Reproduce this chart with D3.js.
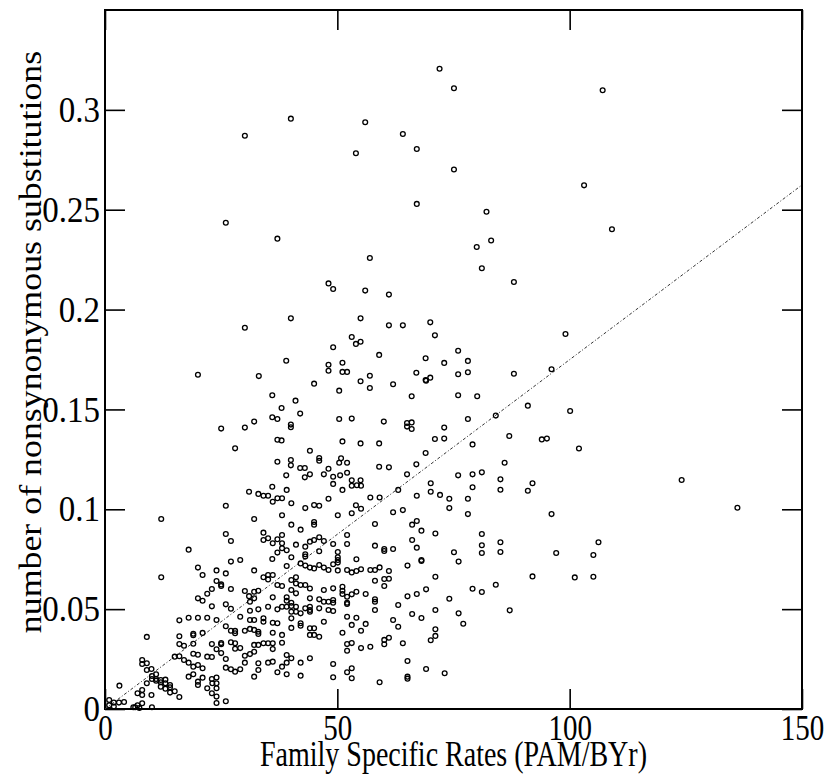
<!DOCTYPE html>
<html>
<head>
<meta charset="utf-8">
<script src="https://cdn.jsdelivr.net/npm/d3@7"></script>
<style>
  body { margin: 0; background: #fff; }
  text { font-family: "Liberation Serif", "Times New Roman", serif; fill: #000; }
</style>
</head>
<body>
<div id="scatter"></div>
<script>
const svgWidth = 828;
const svgHeight = 775;

// plot frame (pixels)
const frame = { left: 105, right: 802, top: 10, bottom: 709 };

// axis settings
const xDomain = [0, 150];
const yDomain = [0, 0.35];
const xTicks = [0, 50, 100, 150];
const yTicks = [0, 0.05, 0.1, 0.15, 0.2, 0.25, 0.3];
const xTitle = "Family Specific Rates (PAM/BYr)";
const yTitle = "number of nonsynonymous substitutions";

// regression line end points
const fitX = [0, 150];
const fitY = [0, 0.2624];

// [rate, substitutions]
const points = [
  // top / sparse
  [40.0,0.2956],[30.1,0.2870],[26.0,0.2435],[37.1,0.2355],
  [72.0,0.3206],[75.1,0.3108],[56.0,0.2938],[64.1,0.2879],[67.1,0.2804],[54.0,0.2783],[75.1,0.2701],[67.1,0.2529],[82.1,0.2490],[83.1,0.2346],
  [107.1,0.3098],[103.1,0.2622],[109.1,0.2402],
  [124.1,0.1147],[136.1,0.1008],[106.2,0.0835],[105.1,0.0771],[105.1,0.0662],
  // middle right
  [80.0,0.2313],[57.0,0.2258],[81.1,0.2207],[88.0,0.2138],[56.0,0.2095],[61.1,0.2075],[55.0,0.1956],[61.1,0.1921],[64.1,0.1921],[70.0,0.1936],
  [71.0,0.1871],[53.1,0.1863],[54.0,0.1828],[55.0,0.1839],[99.1,0.1878],[59.0,0.1773],[76.0,0.1794],[69.0,0.1756],[73.0,0.1733],[78.1,0.1743],
  [51.1,0.1734],[51.1,0.1688],[52.1,0.1688],[76.0,0.1676],[78.1,0.1686],[88.0,0.1679],[96.1,0.1701],[57.0,0.1669],[55.0,0.1641],[67.0,0.1684],
  [69.0,0.1647],[70.0,0.1659],[69.1,0.1644],[57.0,0.1607],[62.0,0.1626],[66.0,0.1566],[76.0,0.1571],[80.1,0.1566],[91.0,0.1519],[100.1,0.1492],
  [84.1,0.1469],[78.1,0.1452],[53.1,0.1454],[60.0,0.1439],[65.0,0.1432],[66.0,0.1435],[65.0,0.1414],[66.0,0.1402],[73.0,0.1409],[71.0,0.1352],
  [73.0,0.1354],[87.0,0.1367],[94.0,0.1350],[95.1,0.1354],[79.1,0.1325],[102.0,0.1304],[51.1,0.1340],[55.0,0.1330],[59.0,0.1330],[69.0,0.1282],
  [67.0,0.1225],[86.0,0.1233],[52.1,0.1233],[59.0,0.1213],[61.1,0.1210],[65.0,0.1175],[76.0,0.1170],[79.1,0.1175],[81.1,0.1185],[85.1,0.1150],
  [52.1,0.1183],[50.8,0.1255],[50.4,0.1233],[50.6,0.1170],[53.1,0.1145],[55.0,0.1145],[53.1,0.1118],[54.2,0.1120],[55.1,0.1118],
  [50.4,0.1594],[50.4,0.1452],
  // middle left
  [48.1,0.2131],[49.1,0.2103],[40.0,0.1956],[30.1,0.1909],[49.1,0.1811],[39.0,0.1744],[48.1,0.1724],[48.1,0.1694],[20.0,0.1674],[33.1,0.1667],
  [45.0,0.1629],[36.0,0.1571],[41.0,0.1544],[38.0,0.1507],[42.0,0.1479],[36.0,0.1461],[37.1,0.1452],[32.1,0.1439],[40.0,0.1424],[40.0,0.1411],
  [25.0,0.1404],[30.1,0.1409],[28.0,0.1305],[37.1,0.1348],[38.0,0.1345],[44.1,0.1293],[46.1,0.1257],[46.1,0.1243],[48.1,0.1203],[49.1,0.1163],
  [39.0,0.1170],[42.0,0.1207],[43.0,0.1207],[40.0,0.1247],[40.0,0.1220],[37.1,0.1238],[44.1,0.1175],[43.0,0.1160],[47.1,0.1175],
  // lower right
  [70.1,0.1130],[92.0,0.1130],[79.1,0.1110],[85.1,0.1098],[91.0,0.1093],[67.1,0.1068],[70.1,0.1088],[72.1,0.1072],[74.1,0.1053],[78.1,0.1053],
  [74.1,0.1006],[78.1,0.0976],[96.1,0.0976],[64.1,0.0996],[66.1,0.0923],[67.1,0.0941],[68.1,0.0893],[71.1,0.0879],[66.1,0.0846],[67.1,0.0808],
  [81.1,0.0876],[81.1,0.0820],[81.1,0.0781],[85.1,0.0835],[85.1,0.0786],[75.1,0.0785],[76.1,0.0738],[68.1,0.0746],[68.1,0.0741],[65.1,0.0718],
  [71.1,0.0662],[92.0,0.0664],[101.1,0.0659],[97.1,0.0781],[79.1,0.0602],[81.1,0.0586],[84.1,0.0622],[69.1,0.0599],[67.1,0.0576],[65.1,0.0564],
  [74.1,0.0552],[71.1,0.0496],[66.1,0.0476],[68.1,0.0456],[76.1,0.0479],[77.1,0.0427],[87.1,0.0494],[71.1,0.0399],[71.1,0.0366],[70.1,0.0344],
  [64.1,0.0329],[65.1,0.0240],[69.1,0.0200],[73.1,0.0179],[65.1,0.0162],[65.1,0.0152],
  // lower left
  [31.0,0.1088],[26.0,0.1018],[12.1,0.0951],[26.0,0.0876],[27.1,0.0841],[18.0,0.0798],[27.1,0.0738],[29.1,0.0746],[20.0,0.0708],[21.0,0.0671],
  [24.0,0.0694],[26.0,0.0679],[12.1,0.0660],[24.0,0.0641],[25.0,0.0624],[25.0,0.0616],[27.1,0.0601],[30.1,0.0591],[23.0,0.0601],[22.0,0.0577],
  [20.0,0.0554],[21.0,0.0542],[23.0,0.0514],[26.0,0.0524],[27.1,0.0502],[31.0,0.0565],[29.1,0.0462],[24.0,0.0446],[22.0,0.0457],[20.0,0.0457],
  [18.0,0.0457],[16.0,0.0444],[26.0,0.0414],[27.1,0.0392],[28.0,0.0391],[28.0,0.0379],[30.1,0.0392],[16.0,0.0364],[19.0,0.0377],[19.0,0.0369],
  [21.0,0.0381],[9.0,0.0361],[16.0,0.0325],[17.0,0.0317],[19.0,0.0327],[23.0,0.0325],[25.0,0.0330],[25.0,0.0324],[27.1,0.0334],[28.0,0.0329],
  [29.1,0.0305],[28.0,0.0302],[16.0,0.0264],[15.0,0.0262],[17.0,0.0245],[19.0,0.0277],[20.0,0.0272],[23.0,0.0260],[22.0,0.0262],[24.0,0.0299],
  [25.0,0.0280],[26.0,0.0250],[26.0,0.0207],[27.1,0.0199],[28.0,0.0187],[29.1,0.0199],[30.1,0.0232],[30.1,0.0267],[8.0,0.0225],[9.0,0.0229],
  [8.0,0.0245],[10.1,0.0165],[11.0,0.0174],[10.1,0.0150],[9.0,0.0195],[10.0,0.0200],[11.0,0.0150],[11.0,0.0142],[12.0,0.0134],[13.0,0.0147],
  [13.0,0.0129],[14.0,0.0120],[14.0,0.0109],[13.0,0.0102],[12.0,0.0145],[12.0,0.0112],[15.0,0.0089],[16.0,0.0060],[14.0,0.0082],[8.0,0.0095],
  [9.0,0.0129],[7.0,0.0079],[8.0,0.0070],[10.0,0.0070],[3.1,0.0117],[0.9,0.0045],[1.9,0.0032],[3.0,0.0032],[4.1,0.0035],[0.9,0.0019],
  [1.9,0.0012],[6.1,0.0009],[6.5,0.0009],[7.0,0.0019],[7.4,0.0005],[8.0,0.0029],[10.1,0.0009],[24.0,0.0030],[26.0,0.0039],[23.0,0.0150],
  [24.0,0.0158],[23.1,0.0129],[24.0,0.0129],[22.0,0.0104],[24.0,0.0104],[23.0,0.0079],[24.0,0.0062],[20.0,0.0137],[20.0,0.0120],[18.0,0.0162],
  [19.0,0.0174],[21.0,0.0157],[21.0,0.0204],[20.0,0.0220],[19.0,0.0212],[18.0,0.0232],
  // dense centre
  [36.0,0.1113],[33.0,0.1077],[34.1,0.1068],[35.1,0.1068],[36.1,0.1038],[37.1,0.1055],[38.1,0.1055],[39.1,0.1097],[40.1,0.1030],[43.1,0.1006],
  [45.0,0.1021],[46.1,0.1018],[48.1,0.1053],[49.1,0.1127],[51.1,0.1097],[57.1,0.1059],[59.1,0.1059],[62.0,0.0985],[63.1,0.1097],[32.1,0.0951],
  [38.1,0.0970],[40.1,0.0923],[42.1,0.0898],[45.0,0.0936],[45.0,0.0923],[50.1,0.0970],[53.1,0.0980],[55.1,0.1003],[54.0,0.1020],[58.1,0.0926],
  [34.1,0.0883],[34.1,0.0846],[35.1,0.0855],[36.1,0.0830],[37.1,0.0850],[38.1,0.0871],[38.1,0.0830],[38.1,0.0805],[41.1,0.0823],[43.1,0.0813],
  [44.1,0.0838],[45.0,0.0846],[46.1,0.0860],[47.1,0.0841],[49.1,0.0826],[52.1,0.0871],[52.1,0.0826],[58.1,0.0818],[60.1,0.0801],[60.1,0.0791],
  [62.0,0.0801],[37.1,0.0783],[39.1,0.0795],[40.1,0.0760],[43.1,0.0763],[43.1,0.0775],[46.1,0.0790],[36.0,0.0751],[50.1,0.0786],[50.1,0.0760],
  [50.1,0.0746],[50.1,0.0733],[54.1,0.0750],[32.1,0.0694],[39.1,0.0716],[42.1,0.0729],[43.1,0.0718],[44.1,0.0708],[45.0,0.0704],[46.1,0.0721],
  [47.1,0.0708],[48.1,0.0696],[49.1,0.0725],[50.1,0.0694],[52.1,0.0696],[53.1,0.0684],[54.1,0.0691],[55.1,0.0700],[57.1,0.0696],[58.1,0.0696],
  [59.1,0.0709],[61.1,0.0691],[61.1,0.0652],[60.1,0.0651],[60.1,0.0616],[58.1,0.0642],[35.1,0.0671],[35.1,0.0649],[36.1,0.0671],[34.1,0.0660],
  [37.1,0.0621],[38.1,0.0616],[40.1,0.0646],[41.1,0.0660],[41.1,0.0629],[42.1,0.0621],[43.1,0.0621],[44.1,0.0603],[40.1,0.0596],[41.1,0.0579],
  [47.1,0.0596],[49.1,0.0604],[51.1,0.0612],[51.1,0.0592],[51.1,0.0576],[52.1,0.0562],[53.1,0.0574],[54.1,0.0587],[56.1,0.0576],[58.1,0.0549],
  [58.1,0.0537],[58.1,0.0496],[32.1,0.0587],[33.0,0.0592],[32.1,0.0554],[31.2,0.0537],[36.1,0.0559],[39.1,0.0559],[39.1,0.0542],[40.1,0.0532],
  [40.1,0.0516],[41.1,0.0512],[41.1,0.0487],[42.1,0.0479],[40.1,0.0487],[39.1,0.0512],[38.1,0.0512],[37.1,0.0499],[35.1,0.0512],[33.0,0.0499],
  [31.2,0.0492],[44.1,0.0554],[44.1,0.0512],[44.1,0.0496],[44.1,0.0487],[43.1,0.0504],[46.1,0.0549],[47.1,0.0537],[48.1,0.0537],[49.1,0.0546],
  [49.1,0.0532],[49.1,0.0491],[48.1,0.0496],[46.1,0.0504],[52.1,0.0532],[52.1,0.0526],[34.1,0.0454],[34.1,0.0437],[32.1,0.0446],[31.2,0.0446],
  [31.2,0.0401],[36.1,0.0432],[37.1,0.0429],[40.1,0.0454],[40.1,0.0406],[42.1,0.0429],[42.1,0.0417],[47.1,0.0437],[52.1,0.0462],[54.1,0.0457],
  [53.1,0.0421],[56.1,0.0426],[55.1,0.0392],[51.1,0.0382],[44.1,0.0404],[45.0,0.0404],[44.1,0.0371],[45.0,0.0371],[46.1,0.0362],[32.1,0.0396],
  [33.0,0.0387],[33.0,0.0376],[36.1,0.0382],[38.1,0.0371],[61.1,0.0357],[60.1,0.0324],[60.1,0.0346],[63.1,0.0412],[62.0,0.0446],[63.1,0.0521],
  [32.1,0.0321],[33.0,0.0321],[34.1,0.0329],[35.1,0.0329],[36.1,0.0329],[36.1,0.0300],[38.1,0.0332],[31.2,0.0275],[32.1,0.0287],[52.1,0.0325],
  [53.1,0.0330],[52.1,0.0292],[55.1,0.0305],[57.1,0.0312],[39.1,0.0270],[40.1,0.0254],[39.1,0.0232],[38.1,0.0212],[37.1,0.0184],[36.1,0.0237],
  [35.1,0.0232],[33.0,0.0229],[33.0,0.0195],[42.1,0.0232],[44.1,0.0254],[32.1,0.0162],[39.1,0.0174],[42.1,0.0167],[49.1,0.0225],[49.1,0.0159],
  [52.1,0.0184],[53.1,0.0204],[53.1,0.0154],[59.1,0.0134]
];

const svg = d3
  .select("#scatter")
  .append("svg")
  .attr("width", svgWidth)
  .attr("height", svgHeight);

svg.append("rect")
  .attr("width", svgWidth)
  .attr("height", svgHeight)
  .attr("fill", "#fff");

const xScale = d3.scaleLinear().domain(xDomain).range([frame.left, frame.right]);
const yScale = d3.scaleLinear().domain(yDomain).range([frame.bottom, frame.top]);

// axes, ticks point inwards on all four sides
const bottomAxis = d3.axisBottom(xScale).tickValues(xTicks)
  .tickSizeInner(-20).tickSizeOuter(0).tickPadding(4).tickFormat(d3.format("~g"));
const topAxis = d3.axisTop(xScale).tickValues(xTicks)
  .tickSizeInner(-20).tickSizeOuter(0).tickFormat("");
const leftAxis = d3.axisLeft(yScale).tickValues(yTicks)
  .tickSizeInner(-20).tickSizeOuter(0).tickPadding(5).tickFormat(d3.format("~g"));
const rightAxis = d3.axisRight(yScale).tickValues(yTicks)
  .tickSizeInner(-20).tickSizeOuter(0).tickFormat("");

const xAxis = svg.append("g")
  .attr("transform", `translate(0, ${frame.bottom})`)
  .call(bottomAxis);
const xAxisTop = svg.append("g")
  .attr("transform", `translate(0, ${frame.top})`)
  .call(topAxis);
const yAxis = svg.append("g")
  .attr("transform", `translate(${frame.left}, 0)`)
  .call(leftAxis);
const yAxisRight = svg.append("g")
  .attr("transform", `translate(${frame.right}, 0)`)
  .call(rightAxis);

[xAxis, xAxisTop, yAxis, yAxisRight].forEach(g => {
  g.select(".domain").remove();
  g.selectAll("line").attr("stroke", "#000").attr("stroke-width", 1.6);
});

// the original text is tall and narrow
xAxis.selectAll("text")
  .attr("font-size", 29)
  .attr("transform", "scale(1, 1.25)");
yAxis.selectAll("text")
  .attr("font-size", 33)
  .attr("transform", "scale(1, 1.1)");

// frame
svg.append("rect")
  .attr("x", frame.left)
  .attr("y", frame.top)
  .attr("width", frame.right - frame.left)
  .attr("height", frame.bottom - frame.top)
  .attr("fill", "none")
  .attr("stroke", "#000")
  .attr("stroke-width", 2);

// regression line
const fitLine = d3.line()
  .x((d, i) => xScale(fitX[i]))
  .y(d => yScale(d));

svg.append("path")
  .datum(fitY)
  .attr("d", fitLine)
  .attr("fill", "none")
  .attr("stroke", "#333")
  .attr("stroke-width", 1)
  .attr("stroke-dasharray", "3,2,1,2");

// scatter points
svg.append("g")
  .selectAll("circle")
  .data(points)
  .enter()
  .append("circle")
  .attr("cx", d => xScale(d[0]))
  .attr("cy", d => yScale(d[1]))
  .attr("r", 2.4)
  .attr("fill", "none")
  .attr("stroke", "#000")
  .attr("stroke-width", 1.3);

// axis titles
svg.append("text")
  .attr("transform", `translate(${(frame.left + frame.right) / 2}, 766) scale(1, 1.25)`)
  .attr("text-anchor", "middle")
  .attr("font-size", 28)
  .text(xTitle);

svg.append("text")
  .attr("transform", `translate(41, 342) rotate(-90) scale(1.12, 1)`)
  .attr("text-anchor", "middle")
  .attr("font-size", 32)
  .text(yTitle);
</script>
</body>
</html>
